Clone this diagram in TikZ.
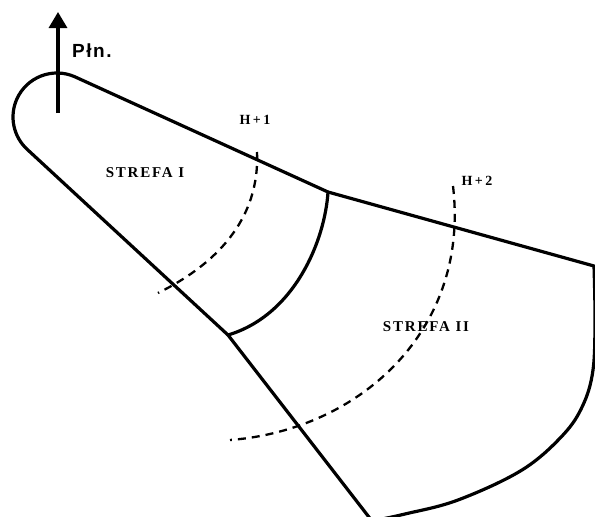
\documentclass[tikz,border=0pt]{standalone}
\usepackage{fontspec}
\setmainfont{Liberation Serif}
\newfontfamily\lblfont[LetterSpace=12]{Liberation Serif Bold}
\newfontfamily\hfont[LetterSpace=12]{Liberation Serif Bold}
\newfontfamily\nfont[LetterSpace=8]{Liberation Sans Bold}
\usetikzlibrary{arrows.meta}
\begin{document}
\begin{tikzpicture}[x=1pt,y=-1pt,
  outline/.style={line width=3.2pt, line join=round, line cap=round},
  hline/.style={line width=2.3pt, dash pattern=on 8pt off 6pt},
  zone/.style={font=\lblfont\fontsize{15}{15}\selectfont, inner sep=0pt},
  hlabel/.style={font=\hfont\fontsize{14}{14}\selectfont, inner sep=0pt},
  northlbl/.style={font=\nfont\fontsize{19}{19}\selectfont, inner sep=0pt, anchor=west}]
\useasboundingbox (0,0) rectangle (595,517);
\clip (0,0) rectangle (595,517);
% key points
\coordinate (ctr) at (57,117);
\coordinate (topjoin) at (328,192);
\coordinate (rightend) at (594,266);
\coordinate (lowjoin) at (228,335);
\coordinate (bottom) at (372,521);
% outline
\draw[outline] (rightend) -- (topjoin) -- ([shift={(66:44pt)}]ctr)
  arc[start angle=66, end angle=228, radius=44pt] -- (lowjoin) -- (bottom);
\draw[outline] plot[smooth, tension=0.6] coordinates {(594,266) (595,320) (593,370) (583,405) (563,435) (522,470) (458,500) (405,514) (372,521)};
% boundary between zones
\draw[outline] (topjoin) .. controls (325,240) and (295,315) .. (lowjoin);
% isochrones
\coordinate (h1a) at (257,152);
\coordinate (h1b) at (158,293);
\draw[hline] (h1a) .. controls (260,220) and (215,265) .. (h1b);
\coordinate (h2a) at (453,186);
\coordinate (h2b) at (230,440);
\draw[hline] (h2a) .. controls (470,330) and (360,430) .. (h2b);
% north arrow
\coordinate (nbase) at (58,113);
\coordinate (ntip) at (58,12);
\draw[line width=3.2pt, -{Triangle[length=16pt,width=18pt]}] (nbase) -- (ntip);
\node[northlbl] (pln) at (72,51) {Płn.};
% labels
\node[zone] (s1) at (145,173) {STREFA I};
\node[zone] (s2) at (426,327) {STREFA II};
\node[hlabel] (lh1) at (255,120) {H\,+\,1};
\node[hlabel] (lh2) at (477,181) {H\,+\,2};
\end{tikzpicture}
\end{document}
